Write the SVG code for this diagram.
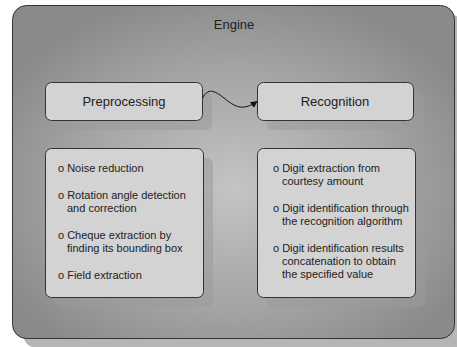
<svg xmlns="http://www.w3.org/2000/svg" width="457" height="347" viewBox="0 0 457 347">
  <defs>
    <radialGradient id="engineFill" cx="0.5" cy="0.55" r="0.6">
      <stop offset="0" stop-color="#c4c4c4"/>
      <stop offset="0.6" stop-color="#a4a4a4"/>
      <stop offset="1" stop-color="#8a8a8a"/>
    </radialGradient>
    <marker id="arrow" viewBox="0 0 10 10" refX="9" refY="5" markerWidth="7" markerHeight="7" markerUnits="userSpaceOnUse" orient="auto">
      <path d="M0,0 L10,5 L0,10 z" fill="#111"/>
    </marker>
  </defs>
  <style>
    .shadow { fill: #9a9a9a; opacity: 0.55; }
    .box { fill: #d3d3d3; stroke: #333; stroke-width: 1; }
    .title { font-family: "Liberation Sans", Arial, sans-serif; font-size: 13px; fill: #222; text-anchor: middle; }
    .item { font-family: "Liberation Sans", Arial, sans-serif; font-size: 11px; fill: #222; }
    .link { fill: none; stroke: #111; stroke-width: 1; }
  </style>
  <rect width="457" height="347" fill="#ffffff"/>

  <g id="engine">
    <rect x="23" y="15" width="442" height="333" rx="14" fill="#b5b5b5"/>
    <rect x="12.5" y="5.5" width="442" height="333" rx="14" fill="url(#engineFill)" stroke="#333"/>
    <text class="title" x="234" y="29">Engine</text>
  </g>

  <g id="preprocessing">
    <rect class="shadow" x="55" y="92" width="157" height="38" rx="6"/>
    <rect class="box" x="45.5" y="82.5" width="157" height="38" rx="6"/>
    <text class="title" x="124" y="106">Preprocessing</text>
  </g>

  <g id="recognition">
    <rect class="shadow" x="267" y="92" width="157" height="38" rx="6"/>
    <rect class="box" x="257.5" y="82.5" width="156" height="38" rx="6"/>
    <text class="title" x="335" y="106">Recognition</text>
  </g>

  <g id="preprocessing-steps">
    <rect class="shadow" x="55" y="158" width="158" height="149" rx="6"/>
    <rect class="box" x="45.5" y="148.5" width="158" height="149" rx="6"/>
    <text class="item" x="58" y="172">o Noise reduction</text>
    <text class="item" x="58" y="199">o Rotation angle detection</text>
    <text class="item" x="67" y="212">and correction</text>
    <text class="item" x="58" y="239">o Cheque extraction by</text>
    <text class="item" x="67" y="252">finding its bounding box</text>
    <text class="item" x="58" y="279">o Field extraction</text>
  </g>

  <g id="recognition-steps">
    <rect class="shadow" x="267" y="158" width="158" height="149" rx="6"/>
    <rect class="box" x="257.5" y="148.5" width="158" height="149" rx="6"/>
    <text class="item" x="273" y="172">o Digit extraction from</text>
    <text class="item" x="282" y="185">courtesy amount</text>
    <text class="item" x="273" y="212">o Digit identification through</text>
    <text class="item" x="282" y="225">the recognition algorithm</text>
    <text class="item" x="273" y="252">o Digit identification results</text>
    <text class="item" x="282" y="265">concatenation to obtain</text>
    <text class="item" x="282" y="278">the specified value</text>
  </g>

  <g id="connectors">
    <path class="link" d="M202.5,98 C208,88 214,90 224,98 C234,106 242,112 257,101.5" marker-end="url(#arrow)"/>
  </g>
</svg>
